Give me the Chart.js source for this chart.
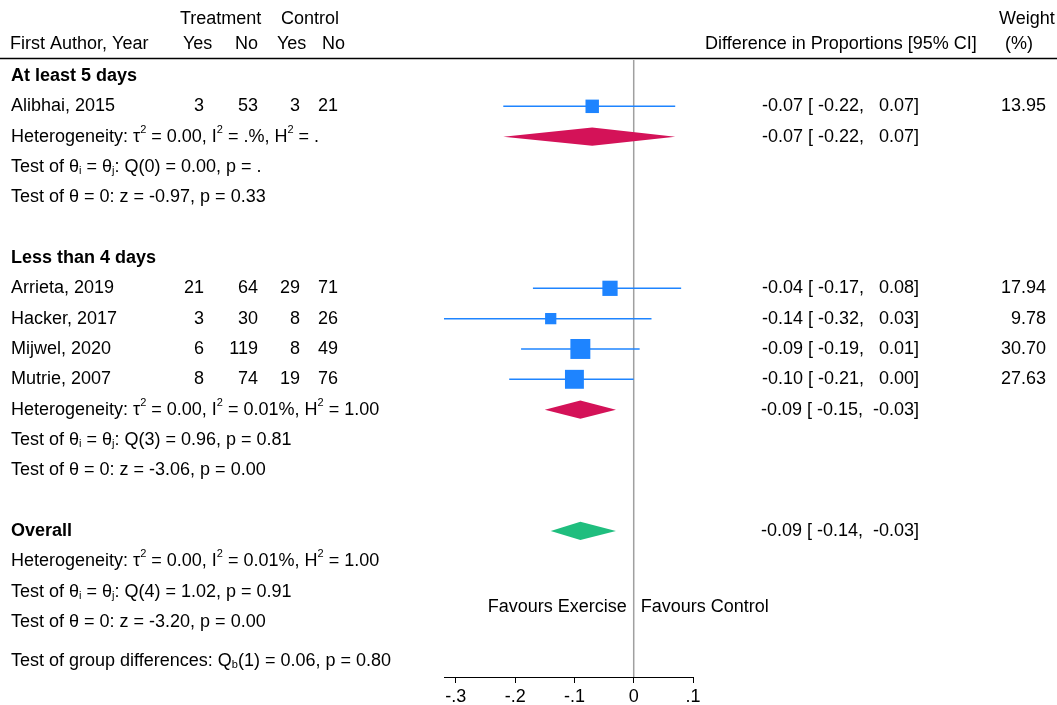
<!DOCTYPE html>
<html>
<head>
<meta charset="utf-8">
<script src="https://cdn.jsdelivr.net/npm/chart.js@4.4.1/dist/chart.umd.min.js"></script>
<style>
  html, body { margin: 0; padding: 0; background: #fff; }
  #wrap { width: 1057px; height: 705px; position: relative; }
</style>
</head>
<body>
<div id="wrap"><canvas id="forestPlot"></canvas></div>
<script>
// study level data
const studies = ['Alibhai, 2015', 'Arrieta, 2019', 'Hacker, 2017', 'Mijwel, 2020', 'Mutrie, 2007'];
const studyRows = [1, 7, 8, 9, 10];
const trtYes = [3, 21, 3, 6, 8];
const trtNo = [53, 64, 30, 119, 74];
const ctlYes = [3, 29, 8, 8, 19];
const ctlNo = [21, 71, 26, 49, 76];
const est = [-0.07, -0.04, -0.14, -0.09, -0.10];
const lower = [-0.22, -0.17, -0.32, -0.19, -0.21];
const upper = [0.07, 0.08, 0.03, 0.01, 0.00];
const weights = [13.95, 17.94, 9.78, 30.70, 27.63];

// subgroups
const groupNames = ['At least 5 days', 'Less than 4 days'];
const groupRows = [0, 6];
const groupEst = [-0.07, -0.09];
const groupLower = [-0.22, -0.15];
const groupUpper = [0.07, -0.03];
const groupHet = [['0.00', '.%', '.'], ['0.00', '0.01%', '1.00']];
const groupQ = [['0', '0.00', '.'], ['3', '0.96', '0.81']];
const groupZ = [['-0.97', '0.33'], ['-3.06', '0.00']];

// overall
const overallRow = 15;
const overallEst = -0.09, overallLower = -0.14, overallUpper = -0.03;
const overallHet = ['0.00', '0.01%', '1.00'];
const overallQ = ['4', '1.02', '0.91'];
const overallZ = ['-3.20', '0.00'];
const groupDiff = ['1', '0.06', '0.80'];

const xTicks = [-0.3, -0.2, -0.1, 0, 0.1];

const FONT = '"Liberation Sans", Arial, Helvetica, sans-serif';
const BLUE = '#1E84FF';
const RED = '#D41258';
const GREEN = '#1FBE7E';
const Y_MIN = -0.5275, Y_MAX = 19.815;

function fmt(v) { return v.toFixed(2); }
function ciText(e, l, h) {
    return fmt(e) + ' [' + fmt(l).padStart(6) + ', ' + fmt(h).padStart(6) + ']';
}
function tickText(v) {
    if (Math.abs(v) < 1e-9) return '0';
    return (v < 0 ? '-' : '') + Math.abs(v).toFixed(1).replace(/^0/, '');
}
function diamond(e, l, h, row, color) {
    return {
        type: 'line',
        data: [{x: l, y: row}, {x: e, y: row - 0.3}, {x: h, y: row}, {x: e, y: row + 0.3}, {x: l, y: row}],
        borderColor: color, borderWidth: 0, backgroundColor: color,
        fill: 'shape', pointRadius: 0, tension: 0, order: 2
    };
}

// rich text with super / subscripts
function rich(ctx, x, y, parts) {
    parts.forEach(function (p) {
        const small = typeof p === 'object';
        const s = small ? p.s : p;
        ctx.font = small ? '11px ' + FONT : '18px ' + FONT;
        const dy = small ? (p.sup ? -7 : 4) : 0;
        ctx.fillText(s, x, y + dy);
        x += ctx.measureText(s).width;
    });
}
function hetParts(h) {
    return ['Heterogeneity: \u03C4', {s: '2', sup: true}, ' = ' + h[0] + ', I', {s: '2', sup: true},
        ' = ' + h[1] + ', H', {s: '2', sup: true}, ' = ' + h[2]];
}
function qParts(q) {
    return ['Test of \u03B8', {s: 'i'}, ' = \u03B8', {s: 'j'}, ': Q(' + q[0] + ') = ' + q[1] + ', p = ' + q[2]];
}
function zParts(z) {
    return ['Test of \u03B8 = 0: z = ' + z[0] + ', p = ' + z[1]];
}

const datasets = [];
// line of no effect
datasets.push({
    type: 'line', data: [{x: 0, y: Y_MIN}, {x: 0, y: Y_MAX}],
    borderColor: '#a0a0a0', borderWidth: 1.5, pointRadius: 0, order: 10
});
// confidence intervals
studies.forEach(function (s, i) {
    datasets.push({
        type: 'line', data: [{x: lower[i], y: studyRows[i]}, {x: upper[i], y: studyRows[i]}],
        borderColor: BLUE, borderWidth: 1.5, pointRadius: 0, order: 3
    });
});
// weighted squares
datasets.push({
    type: 'scatter',
    data: studies.map(function (s, i) { return {x: est[i], y: studyRows[i]}; }),
    pointStyle: 'rect',
    pointRadius: weights.map(function (w) { return 3.6 * Math.sqrt(w) / Math.SQRT2; }),
    backgroundColor: BLUE, borderWidth: 0, order: 1
});
// subgroup and overall diamonds
groupNames.forEach(function (g, k) {
    datasets.push(diamond(groupEst[k], groupLower[k], groupUpper[k], groupRows[k] + 2 + (k ? 3 : 0), RED));
});
datasets.push(diamond(overallEst, overallLower, overallUpper, overallRow, GREEN));

const tablePlugin = {
    id: 'tablePlugin',
    afterDraw(chart) {
        const ctx = chart.ctx;
        const ys = chart.scales.y;
        const xs = chart.scales.x;
        const rowY = function (r) { return ys.getPixelForValue(r); };
        ctx.save();
        ctx.fillStyle = '#000';
        ctx.textBaseline = 'middle';

        // header
        ctx.font = '18px ' + FONT;
        ctx.textAlign = 'left';
        ctx.fillText('Treatment', 180, 19);
        ctx.fillText('Control', 281, 19);
        ctx.fillText('Weight', 999, 19);
        ctx.fillText('First Author, Year', 10, 44);
        ctx.fillText('Yes', 183, 44);
        ctx.fillText('No', 235, 44);
        ctx.fillText('Yes', 277, 44);
        ctx.fillText('No', 322, 44);
        ctx.fillText('Difference in Proportions [95% CI]', 705, 44);
        ctx.fillText('(%)', 1005, 44);
        ctx.strokeStyle = '#000';
        ctx.lineWidth = 1.5;
        ctx.beginPath();
        ctx.moveTo(0, 58.5);
        ctx.lineTo(1057, 58.5);
        ctx.stroke();

        // subgroups
        groupNames.forEach(function (g, k) {
            const r0 = groupRows[k];
            ctx.textAlign = 'left';
            ctx.font = 'bold 18px ' + FONT;
            ctx.fillText(g, 11, rowY(r0));
            const last = k === 0 ? 1 : 4;
            rich(ctx, 11, rowY(r0 + last + 1), hetParts(groupHet[k]));
            rich(ctx, 11, rowY(r0 + last + 2), qParts(groupQ[k]));
            rich(ctx, 11, rowY(r0 + last + 3), zParts(groupZ[k]));
            ctx.textAlign = 'right';
            ctx.font = '18px ' + FONT;
            ctx.fillText(ciText(groupEst[k], groupLower[k], groupUpper[k]), 919, rowY(r0 + last + 1));
        });

        // studies
        studies.forEach(function (s, i) {
            const y = rowY(studyRows[i]);
            ctx.font = '18px ' + FONT;
            ctx.textAlign = 'left';
            ctx.fillText(s, 11, y);
            ctx.textAlign = 'right';
            ctx.fillText(String(trtYes[i]), 204, y);
            ctx.fillText(String(trtNo[i]), 258, y);
            ctx.fillText(String(ctlYes[i]), 300, y);
            ctx.fillText(String(ctlNo[i]), 338, y);
            ctx.fillText(ciText(est[i], lower[i], upper[i]), 919, y);
            ctx.fillText(weights[i].toFixed(2), 1046, y);
        });

        // overall
        ctx.textAlign = 'left';
        ctx.font = 'bold 18px ' + FONT;
        ctx.fillText('Overall', 11, rowY(overallRow));
        ctx.font = '18px ' + FONT;
        ctx.textAlign = 'right';
        ctx.fillText(ciText(overallEst, overallLower, overallUpper), 919, rowY(overallRow));
        ctx.textAlign = 'left';
        rich(ctx, 11, rowY(overallRow + 1), hetParts(overallHet));
        rich(ctx, 11, rowY(overallRow + 2), qParts(overallQ));
        rich(ctx, 11, rowY(overallRow + 3), zParts(overallZ));
        rich(ctx, 11, rowY(overallRow + 4.3), ['Test of group differences: Q', {s: 'b'},
            '(' + groupDiff[0] + ') = ' + groupDiff[1] + ', p = ' + groupDiff[2]]);

        // favours labels
        const x0 = xs.getPixelForValue(0);
        ctx.font = '18px ' + FONT;
        ctx.textAlign = 'right';
        ctx.fillText('Favours Exercise', x0 - 7, rowY(overallRow + 2.5));
        ctx.textAlign = 'left';
        ctx.fillText('Favours Control', x0 + 7, rowY(overallRow + 2.5));
        ctx.restore();
    }
};

new Chart(document.getElementById('forestPlot'), {
    type: 'scatter',
    data: {datasets: datasets},
    options: {
        responsive: true,
        maintainAspectRatio: false,
        animation: false,
        devicePixelRatio: 1,
        layout: {padding: {left: 444, right: 364, top: 60, bottom: 0}},
        plugins: {legend: {display: false}, tooltip: {enabled: false}},
        scales: {
            x: {
                type: 'linear', position: 'bottom',
                min: lower[2], max: 0.1,
                afterFit: function (scale) { scale.height = 28; },
                afterBuildTicks: function (scale) { scale.ticks = xTicks.map(function (v) { return {value: v}; }); },
                grid: {display: true, drawOnChartArea: false, drawTicks: true, tickLength: 6, color: '#000', lineWidth: 1},
                border: {display: true, color: '#000', width: 1},
                ticks: {
                    color: '#000', padding: 3, maxRotation: 0, autoSkip: false,
                    font: {family: FONT, size: 18},
                    callback: function (v) { return tickText(v); }
                }
            },
            y: {
                type: 'linear', display: false, reverse: true, min: Y_MIN, max: Y_MAX
            }
        }
    },
    plugins: [tablePlugin]
});
</script>
</body>
</html>
